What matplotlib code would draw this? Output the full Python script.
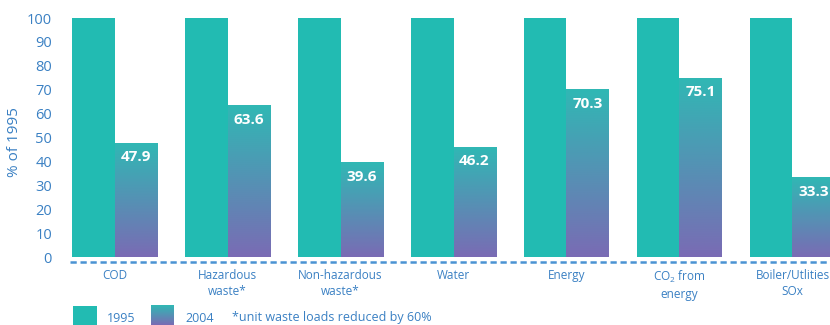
import matplotlib
matplotlib.use("Agg")
import matplotlib.pyplot as plt
import numpy as np
from matplotlib.colors import LinearSegmentedColormap
from matplotlib.patches import Rectangle

plt.rcParams['font.family'] = ['Open Sans', 'DejaVu Sans']
plt.rcParams['mathtext.fontset'] = 'custom'
plt.rcParams['mathtext.rm'] = 'Open Sans'
plt.rcParams['mathtext.it'] = 'Open Sans'

# Data
categories = ['COD', 'Hazardous\nwaste*', 'Non-hazardous\nwaste*', 'Water', 'Energy',
              'CO$_2$ from\nenergy', 'Boiler/Utlities\nSOx']
values_1995 = [100, 100, 100, 100, 100, 100, 100]
values_2004 = [47.9, 63.6, 39.6, 46.2, 70.3, 75.1, 33.3]
yticks = list(range(0, 101, 10))

# Colours
teal = '#22bbb2'
grad_top = '#30b8b4'
grad_bottom = '#7a6bb4'
blue = '#3a80c3'
grad_cmap = LinearSegmentedColormap.from_list('g', [grad_bottom, grad_top])
grad = np.linspace(0, 1, 256).reshape(-1, 1)

W, H = 830, 325
fig = plt.figure(figsize=(W / 100, H / 100), dpi=100)
ax = fig.add_axes([70 / W, 1 - 262 / H, 760 / W, (262 - 8) / H])

x = np.arange(len(categories))
w = 0.372

ax.bar(x - w / 2, values_1995, w, color=teal, linewidth=0)
bars = ax.bar(x + w / 2, values_2004, w, color='none', linewidth=0)
for b, v in zip(bars, values_2004):
    x0 = b.get_x()
    im = ax.imshow(grad, extent=[x0, x0 + b.get_width(), 0, v], origin='lower',
                   cmap=grad_cmap, aspect='auto', zorder=2)
    im.set_clip_path(b)
    ax.annotate(f'{v}', (x0 + b.get_width() / 2, v), xytext=(0, -10.5),
                textcoords='offset points', ha='center', va='center',
                color='white', fontsize=11, fontweight='bold', zorder=3)

ax.set_xlim(-0.394, 6.332)
ax.set_ylim(-2.09, 104.2)

ax.set_yticks(yticks)
ax.set_yticklabels([str(t) for t in yticks])
ax.set_xticks(x)
ax.set_xticklabels(categories, linespacing=1.3)
ax.tick_params(axis='y', length=0, pad=13, labelsize=10.5, labelcolor=blue)
ax.tick_params(axis='x', length=0, pad=5, labelsize=8.5, labelcolor=blue)

for s in ['top', 'right', 'left']:
    ax.spines[s].set_visible(False)
ax.spines['bottom'].set_color('#4a93d3')
ax.spines['bottom'].set_linewidth(1.8)
ax.spines['bottom'].set_linestyle((0, (2.5, 1.5)))
ax.spines['bottom'].set_capstyle('butt')

fig.text(15 / W, 1 - 142 / H, '% of 1995', rotation=90, ha='center', va='center',
         color=blue, fontsize=11)

# Legend
fig.patches.append(Rectangle((73 / W, 0), 24 / W, 19 / H, transform=fig.transFigure,
                             facecolor=teal, linewidth=0))
fig.text(107 / W, 1 - 318 / H, '1995', color=blue, fontsize=9, va='center')
sw = fig.add_axes([151 / W, 0, 23 / W, 20 / H])
sw.imshow(grad, origin='lower', cmap=grad_cmap, aspect='auto')
sw.axis('off')
fig.text(185 / W, 1 - 318 / H, '2004', color=blue, fontsize=9, va='center')
fig.text(232 / W, 1 - 318 / H, '*unit waste loads reduced by 60%', color=blue,
         fontsize=9, va='center')

fig.savefig('out.png', dpi=100)
